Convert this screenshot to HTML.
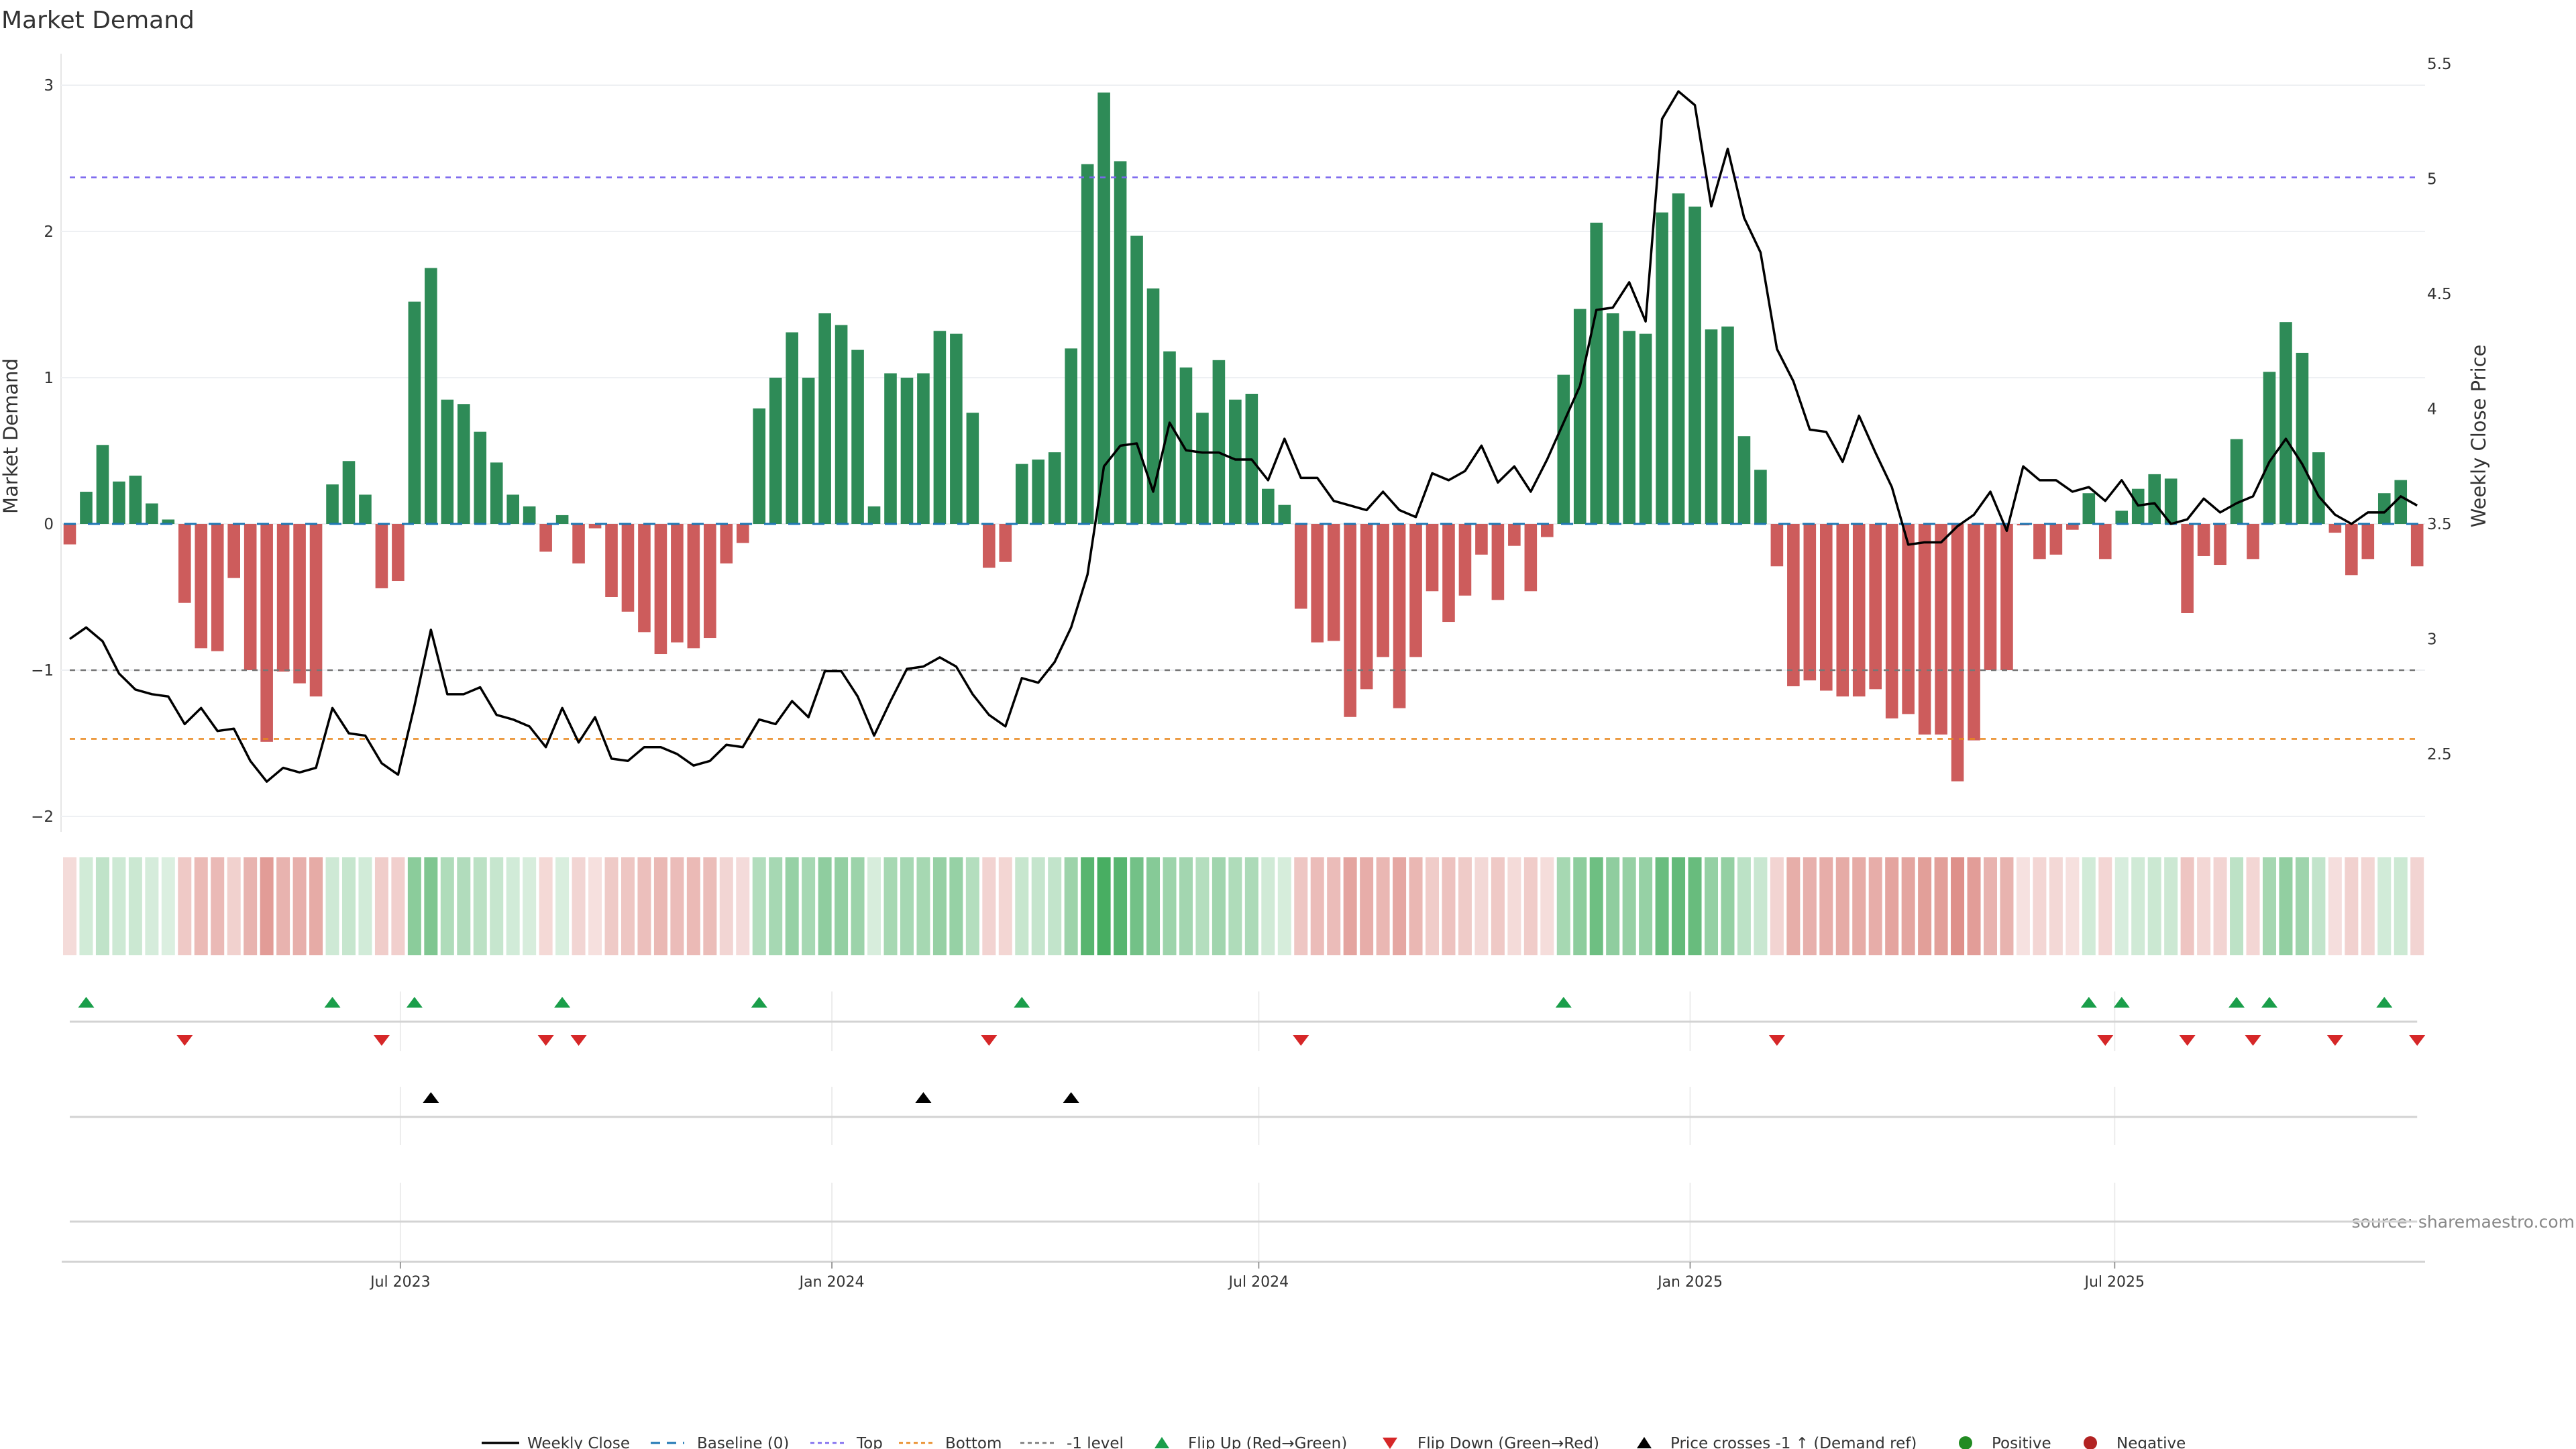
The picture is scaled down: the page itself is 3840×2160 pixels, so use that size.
<!DOCTYPE html>
<html><head><meta charset="utf-8"><title>Market Demand</title>
<style>
html,body{margin:0;padding:0;background:#fff;}
svg{display:block;font-family:"DejaVu Sans","Liberation Sans",sans-serif;}
</style></head>
<body>
<svg id="chart" width="3840" height="2160" viewBox="0 0 3840 2160" xmlns="http://www.w3.org/2000/svg">
<rect width="3840" height="2160" fill="#fff"/>
<text x="2" y="42" font-size="36" fill="#333">Market Demand</text>
<text transform="translate(26,650) rotate(-90)" text-anchor="middle" font-size="29" fill="#333">Market Demand</text>
<text transform="translate(3705,650) rotate(-90)" text-anchor="middle" font-size="29" fill="#333">Weekly Close Price</text>
<text x="3838" y="1830" text-anchor="end" font-size="25" fill="#888">source: sharemaestro.com</text>
<g id="grid"></g>
<g id="bars"></g>
<g id="refs"></g>
<g id="line"></g>
<g id="heat"></g>
<g id="panels"></g>
<g id="xaxis"></g>
<g id="legend"></g>
</svg>
<script>
const demand=[-0.14,0.22,0.54,0.29,0.33,0.14,0.03,-0.54,-0.85,-0.87,-0.37,-1.0,-1.49,-1.01,-1.09,-1.18,0.27,0.43,0.2,-0.44,-0.39,1.52,1.75,0.85,0.82,0.63,0.42,0.2,0.12,-0.19,0.06,-0.27,-0.03,-0.5,-0.6,-0.74,-0.89,-0.81,-0.85,-0.78,-0.27,-0.13,0.79,1.0,1.31,1.0,1.44,1.36,1.19,0.12,1.03,1.0,1.03,1.32,1.3,0.76,-0.3,-0.26,0.41,0.44,0.49,1.2,2.46,2.95,2.48,1.97,1.61,1.18,1.07,0.76,1.12,0.85,0.89,0.24,0.13,-0.58,-0.81,-0.8,-1.32,-1.13,-0.91,-1.26,-0.91,-0.46,-0.67,-0.49,-0.21,-0.52,-0.15,-0.46,-0.09,1.02,1.47,2.06,1.44,1.32,1.3,2.13,2.26,2.17,1.33,1.35,0.6,0.37,-0.29,-1.11,-1.07,-1.14,-1.18,-1.18,-1.13,-1.33,-1.3,-1.44,-1.44,-1.76,-1.48,-1.0,-1.0,-0.01,-0.24,-0.21,-0.04,0.21,-0.24,0.09,0.24,0.34,0.31,-0.61,-0.22,-0.28,0.58,-0.24,1.04,1.38,1.17,0.49,-0.06,-0.35,-0.24,0.21,0.3,-0.29];
const price=[3.00,3.05,2.99,2.85,2.78,2.76,2.75,2.63,2.70,2.60,2.61,2.47,2.38,2.44,2.42,2.44,2.70,2.59,2.58,2.46,2.41,2.71,3.04,2.76,2.76,2.79,2.67,2.65,2.62,2.53,2.70,2.55,2.66,2.48,2.47,2.53,2.53,2.50,2.45,2.47,2.54,2.53,2.65,2.63,2.73,2.66,2.86,2.86,2.75,2.58,2.73,2.87,2.88,2.92,2.88,2.76,2.67,2.62,2.83,2.81,2.90,3.05,3.28,3.75,3.84,3.85,3.64,3.94,3.82,3.81,3.81,3.78,3.78,3.69,3.87,3.70,3.70,3.60,3.58,3.56,3.64,3.56,3.53,3.72,3.69,3.73,3.84,3.68,3.75,3.64,3.78,3.94,4.10,4.43,4.44,4.55,4.38,5.26,5.38,5.32,4.88,5.13,4.83,4.68,4.26,4.12,3.91,3.90,3.77,3.97,3.81,3.66,3.41,3.42,3.42,3.49,3.54,3.64,3.47,3.75,3.69,3.69,3.64,3.66,3.60,3.69,3.58,3.59,3.50,3.52,3.61,3.55,3.59,3.62,3.77,3.87,3.76,3.62,3.54,3.50,3.55,3.55,3.62,3.58];
const crossIdx=[22,52,61];
const leftTicks=[-2,-1,0,1,2,3];
const rightTicks=[2.5,3,3.5,4,4.5,5,5.5];
const xTickLabels=["Jul 2023","Jan 2024","Jul 2024","Jan 2025","Jul 2025"];
const xTickDates=["2023-07-01","2024-01-01","2024-07-01","2025-01-01","2025-07-01"];
const firstWeek="2023-02-10";
const refTop=2.37, refBottom=-1.47, refMinus1=-1.0;

const NS="http://www.w3.org/2000/svg";
const X0=104, STEP=24.47, XEND=104+143*24.47;
function xi(i){return X0+i*STEP;}
function xDate(d){return X0+(Date.parse(d)-Date.parse(firstWeek))/86400000/7*STEP;}
function yD(v){return 781-v*218;}
function yP(p){return 781-(p-3.5)*343;}
function mk(tag,attrs,parent,text){const e=document.createElementNS(NS,tag);for(const k in attrs)e.setAttribute(k,attrs[k]);if(text!==undefined)e.textContent=text;parent.appendChild(e);return e;}
const G=id=>document.getElementById(id);

const grid=G('grid');
mk('line',{x1:91,y1:80,x2:91,y2:1240,stroke:'#e6e6e6','stroke-width':2},grid);
leftTicks.forEach(t=>{
  const l=mk('line',{x1:91,x2:3615,y1:yD(t),y2:yD(t),stroke:'#eef0f3','stroke-width':2},grid);
  
  
  const tx=mk('text',{x:80,y:yD(t)+8,'text-anchor':'end','font-size':23,fill:'#333'},grid,t<0?'\u2212'+Math.abs(t):String(t));
  
  
});
rightTicks.forEach(t=>{
  const tx=mk('text',{x:3618,y:yP(t)+8,'font-size':23,fill:'#333'},grid,String(t));
  
  
});

const bars=G('bars');
demand.forEach((v,i)=>{
  const y=Math.min(yD(v),yD(0)),h=Math.abs(yD(v)-yD(0));
  const r=mk('rect',{x:xi(i)-9.3,y:y,width:18.6,height:Math.max(h,1),fill:v>=0?'#2e8b57':'#cd5c5c'},bars);
  
  
});

const refs=G('refs');
const bl=mk('line',{x1:X0-9,x2:XEND+9,y1:yD(0),y2:yD(0),stroke:'#1f77b4','stroke-width':3,'stroke-dasharray':'18,18'},refs);


const rt=mk('line',{x1:X0,x2:XEND,y1:yD(refTop),y2:yD(refTop),stroke:'#7b68ee','stroke-width':2.5,'stroke-dasharray':'8,8'},refs);


const rm=mk('line',{x1:X0,x2:XEND,y1:yD(refMinus1),y2:yD(refMinus1),stroke:'#777','stroke-width':2.5,'stroke-dasharray':'8,8'},refs);


const rb=mk('line',{x1:X0,x2:XEND,y1:yD(refBottom),y2:yD(refBottom),stroke:'#e8871e','stroke-width':2.5,'stroke-dasharray':'8,8'},refs);



const pl=mk('polyline',{points:price.map((p,i)=>xi(i)+','+yP(p)).join(' '),fill:'none',stroke:'#000','stroke-width':3.5,'stroke-linejoin':'round'},G('line'));



const heat=G('heat');
demand.forEach((v,i)=>{
  const a=Math.min(0.85,0.16+0.25*Math.abs(v));
  const c=v>=0?'rgba(40,160,70,'+a+')':'rgba(200,70,60,'+a+')';
  const r=mk('rect',{x:xi(i)-10,y:1278,width:20,height:146,fill:c},heat);
  
  
});

const pan=G('panels');
xTickDates.forEach(d=>{
  const x=xDate(d);
  [[1478,1567],[1620,1707],[1763,1880]].forEach(s=>mk('line',{x1:x,x2:x,y1:s[0],y2:s[1],stroke:'#ececec','stroke-width':2},pan));
});
[1523,1665,1821].forEach(y=>{
  const l=mk('line',{x1:X0,x2:XEND,y1:y,y2:y,stroke:'#d3d3d3','stroke-width':3},pan);
  
  
});
function tri(x,y,up,fill,name){
  const p=up?`${x-12},${y+8} ${x+12},${y+8} ${x},${y-8}`:`${x-12},${y-8} ${x+12},${y-8} ${x},${y+8}`;
  const t=mk('polygon',{points:p,fill:fill},pan);
  
  
}
for(let i=1;i<demand.length;i++){
  if(demand[i-1]<0&&demand[i]>=0)tri(xi(i),1494,true,'#1a9e4a','flip-up-marker');
  if(demand[i-1]>=0&&demand[i]<0)tri(xi(i),1551,false,'#d62728','flip-down-marker');
}
crossIdx.forEach(i=>tri(xi(i),1636,true,'#000','price-cross-marker'));

const xa=G('xaxis');
mk('line',{x1:92,x2:3615,y1:1881,y2:1881,stroke:'#d3d3d3','stroke-width':3},xa);
xTickDates.forEach((d,k)=>{
  const x=xDate(d);
  mk('line',{x1:x,x2:x,y1:1881,y2:1891,stroke:'#999','stroke-width':2},xa);
  const t=mk('text',{x:x,y:1918,'text-anchor':'middle','font-size':22,fill:'#333'},xa,xTickLabels[k]);
  
  
});

const lg=G('legend');
const LY=2151;
function legText(x,s,name){const t=mk('text',{x:x,y:LY+8,'font-size':23,fill:'#333'},lg,s);}
mk('line',{x1:718,x2:774,y1:LY,y2:LY,stroke:'#000','stroke-width':3.5},lg);
legText(786,'Weekly Close','legend-weekly-close');
mk('line',{x1:970,x2:1020,y1:LY,y2:LY,stroke:'#1f77b4','stroke-width':3,'stroke-dasharray':'14,10'},lg);
legText(1039,'Baseline (0)','legend-baseline');
mk('line',{x1:1208,x2:1258,y1:LY,y2:LY,stroke:'#7b68ee','stroke-width':2.5,'stroke-dasharray':'6,5'},lg);
legText(1277,'Top','legend-top');
mk('line',{x1:1340,x2:1390,y1:LY,y2:LY,stroke:'#e8871e','stroke-width':2.5,'stroke-dasharray':'6,5'},lg);
legText(1409,'Bottom','legend-bottom');
mk('line',{x1:1521,x2:1571,y1:LY,y2:LY,stroke:'#777','stroke-width':2.5,'stroke-dasharray':'6,5'},lg);
legText(1590,'-1 level','legend-minus1');
mk('polygon',{points:`${1732-11},${LY+8} ${1732+11},${LY+8} 1732,${LY-9}`,fill:'#1a9e4a'},lg);
legText(1771,'Flip Up (Red\u2192Green)','legend-flip-up');
mk('polygon',{points:`${2072-11},${LY-8} ${2072+11},${LY-8} 2072,${LY+9}`,fill:'#d62728'},lg);
legText(2113,'Flip Down (Green\u2192Red)','legend-flip-down');
mk('polygon',{points:`${2451-11},${LY+8} ${2451+11},${LY+8} 2451,${LY-9}`,fill:'#000'},lg);
legText(2490,'Price crosses -1 \u2191 (Demand ref)','legend-price-cross');
mk('circle',{cx:2930,cy:LY,r:10,fill:'#228b22'},lg);
legText(2969,'Positive','legend-positive');
mk('circle',{cx:3116,cy:LY,r:10,fill:'#b22222'},lg);
legText(3155,'Negative','legend-negative');
</script>
</body></html>
